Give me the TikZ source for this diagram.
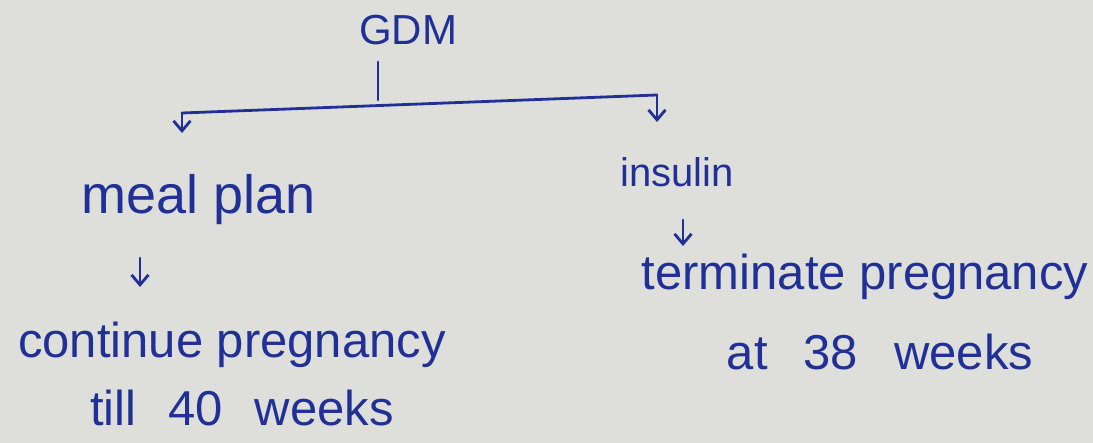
\documentclass[tikz,border=0pt]{standalone}
\usepackage{fontspec}
\setmainfont{Liberation Sans}
\usetikzlibrary{arrows.meta}
\definecolor{ink}{RGB}{32,48,150}
\definecolor{paper}{RGB}{222,223,219}
\tikzset{
  lbl/.style={text=ink, inner sep=0pt, anchor=center},
  big/.style={lbl, font=\fontsize{49}{56}\selectfont},
  mid/.style={lbl, font=\fontsize{40}{48}\selectfont},
  pen/.style={draw=ink, line width=2.8pt, line cap=round},
  arr/.style={pen, -{Straight Barb[length=10pt,width=17pt]}}
}
\begin{document}
\begin{tikzpicture}[x=1pt,y=-1pt]
\fill[paper] (0,0) rectangle (1093,443);
\useasboundingbox (0,0) rectangle (1093,443);
\node[lbl, font=\fontsize{42}{48}\selectfont] (gdm) at (408,30) {GDM};
\node[mid] (ins) at (677,172) {insulin};
\node[lbl, font=\fontsize{54}{60}\selectfont] (meal) at (199,200) {meal plan};
\node[big] (term) at (865,277) {terminate pregnancy};
\node[big] (at38) at (880,352) {at\hspace{36pt}38\hspace{36pt}weeks};
\node[big] (cont) at (232,345) {continue pregnancy};
\node[big] (till) at (242,408) {till\hspace{32pt}40\hspace{32pt}weeks};
% coordinates of the branching bar
\coordinate (tickT) at (378,62);
\coordinate (tickB) at (378,100);
\coordinate (barL) at (182,113);
\coordinate (barR) at (657,95);
\coordinate (arrL) at (182,133);
\coordinate (arrR) at (657,122);
\draw[pen] (tickT) -- (tickB);
\draw[pen] (barL) -- (barR);
\draw[arr] (barL) -- (arrL);
\draw[arr] (barR) -- (arrR);
% downward arrows
\coordinate (m1) at (140,258);
\coordinate (m2) at (140,287);
\coordinate (i1) at (683,220);
\coordinate (i2) at (683,246);
\draw[arr] (m1) -- (m2);
\draw[arr] (i1) -- (i2);
\end{tikzpicture}
\end{document}
